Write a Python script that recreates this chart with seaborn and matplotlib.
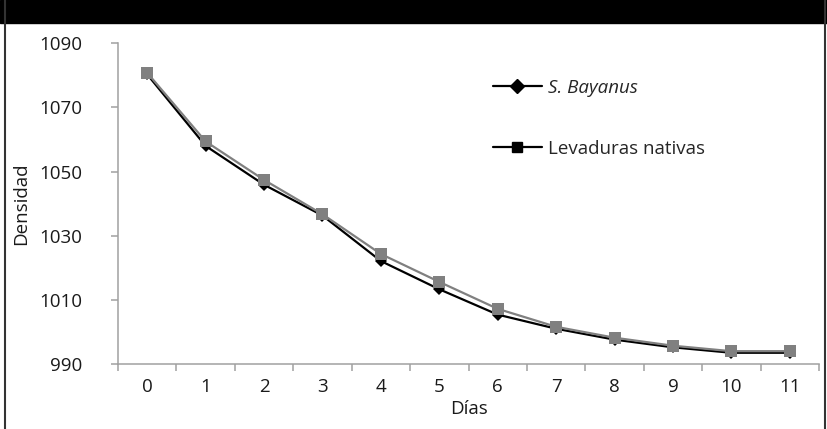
import pandas as pd
import matplotlib.pyplot as plt
from matplotlib.lines import Line2D
import seaborn as sns

# Densidad del mosto durante la fermentacion
dias = [0, 1, 2, 3, 4, 5, 6, 7, 8, 9, 10, 11]
s_bayanus = [1080.3, 1058.0, 1045.9, 1036.3, 1022.1, 1013.3, 1005.4, 1001.0, 997.6, 995.2, 993.5, 993.5]
nativas = [1080.8, 1059.4, 1047.4, 1036.7, 1024.3, 1015.6, 1007.2, 1001.6, 998.2, 995.7, 994.0, 994.0]
y_ticks = [990, 1010, 1030, 1050, 1070, 1090]

df = pd.DataFrame({'Dias': dias, 'S. Bayanus': s_bayanus, 'Levaduras nativas': nativas})

sns.set_style('white')
plt.rcParams['font.family'] = ['Open Sans', 'DejaVu Sans']

fig = plt.figure(figsize=(8.27, 4.29), dpi=100)
ax = fig.add_axes([118 / 827, 1 - 364 / 429, (819 - 118) / 827, (364 - 43.3) / 429])

sns.lineplot(data=df, x='Dias', y='S. Bayanus', ax=ax, color='black', lw=1.6,
             marker='D', markersize=6.5, markeredgewidth=0)
sns.lineplot(data=df, x='Dias', y='Levaduras nativas', ax=ax, color='#808080', lw=1.6,
             marker='s', markersize=8.5, markeredgewidth=0)

ax.set_xlim(-0.5, 11.5)
ax.set_ylim(990, 1090)
ax.set_yticks(y_ticks)
ax.set_xticks(dias)
ax.set_xticks([d - 0.5 for d in dias] + [11.5], minor=True)

for s in ['top', 'right']:
    ax.spines[s].set_visible(False)
for s in ['left', 'bottom']:
    ax.spines[s].set_color('#a0a0a0')
    ax.spines[s].set_linewidth(1.1)

ax.tick_params(axis='y', which='major', direction='out', length=5, width=1.1,
               color='#a0a0a0', left=True, pad=21, labelsize=13.5, labelcolor='#1a1a1a')
ax.tick_params(axis='x', which='major', length=0, pad=10, labelsize=13.5, labelcolor='#1a1a1a')
ax.tick_params(axis='x', which='minor', direction='out', length=5, width=1.1,
               color='#a0a0a0', bottom=True)

ax.set_xlabel('Días', fontsize=13.5, color='#1a1a1a', labelpad=3)
ax.set_ylabel('Densidad', fontsize=13.5, color='#1a1a1a', labelpad=6)

handles = [Line2D([], [], color='black', lw=1.6, marker='D', markersize=7),
           Line2D([], [], color='black', lw=1.6, marker='s', markersize=7)]
leg = ax.legend(handles, ['S. Bayanus', 'Levaduras nativas'], frameon=False,
                loc='upper left', bbox_to_anchor=(0.511, 0.942), handlelength=2.6,
                handletextpad=0.32, labelspacing=2.3, fontsize=13.5)
leg.get_texts()[0].set_style('italic')

# marco de la figura
fig.patches.append(plt.Rectangle((0, 1 - 23 / 429), 1, 23 / 429, transform=fig.transFigure,
                                 color='black', zorder=0))
fig.lines.append(Line2D([4.5 / 827, 4.5 / 827], [0, 1], transform=fig.transFigure,
                        color='#333333', lw=1.5))
fig.lines.append(Line2D([825 / 827, 825 / 827], [0, 1], transform=fig.transFigure,
                        color='#333333', lw=1.5))

fig.savefig('out.png', dpi=100)
